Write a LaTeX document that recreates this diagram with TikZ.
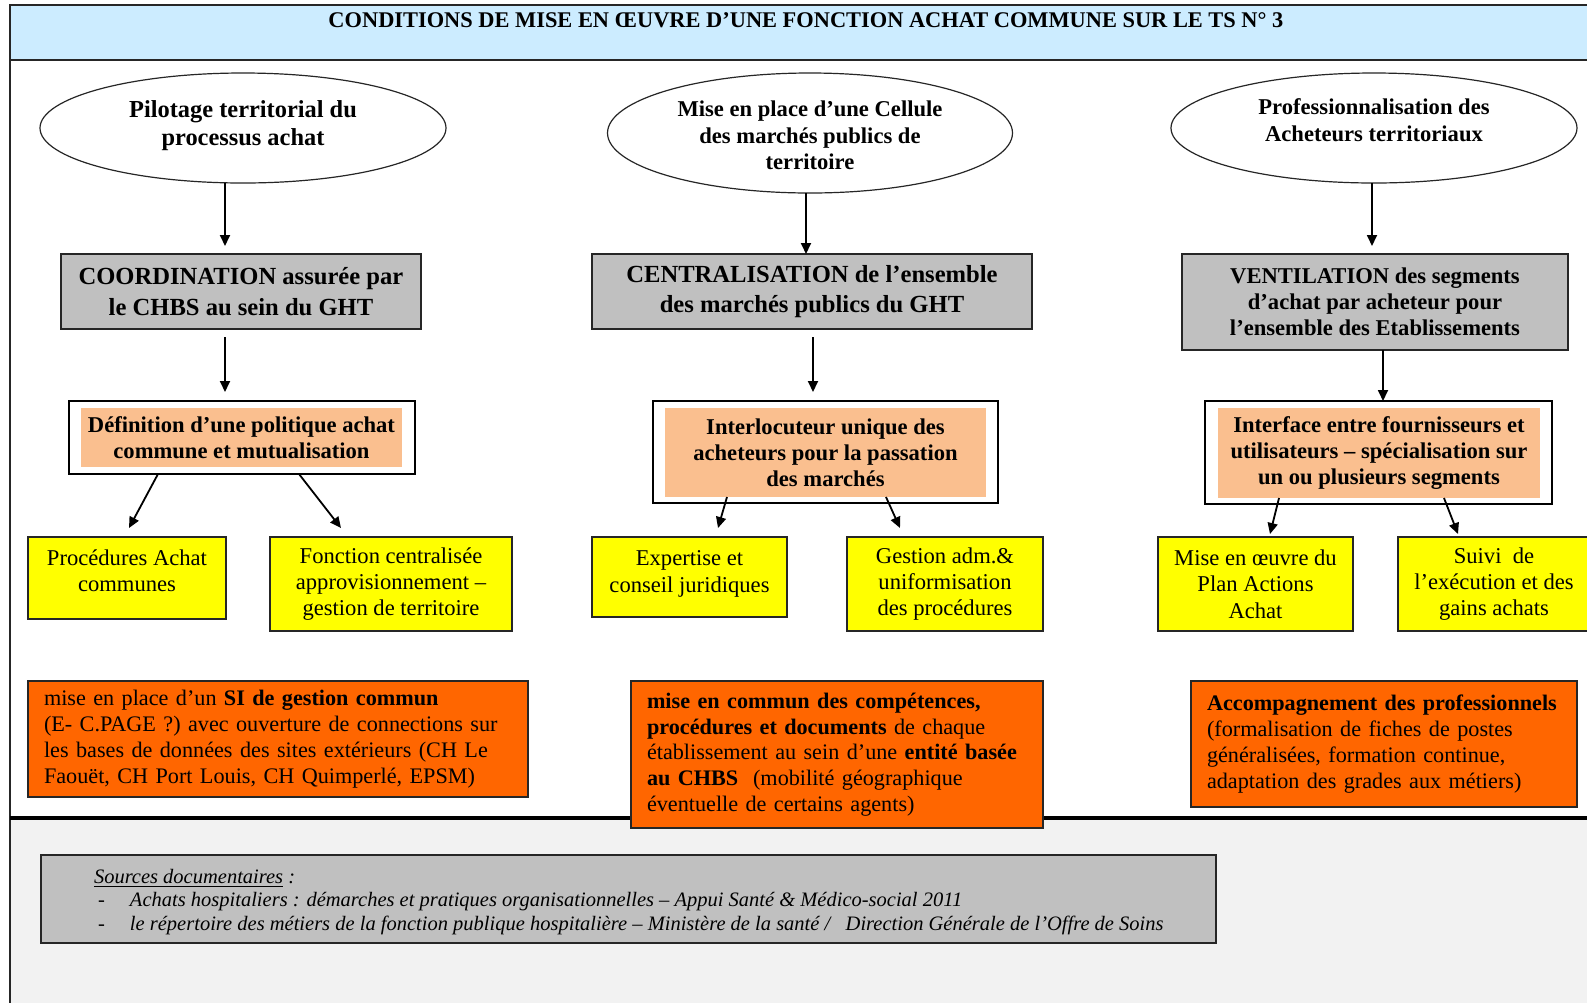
\documentclass[tikz,border=0pt]{standalone}
\usepackage{fontspec}
\setmainfont{Liberation Serif}
\usetikzlibrary{arrows.meta,shapes.geometric}

\definecolor{bandblue}{HTML}{CCECFF}
\definecolor{boxgray}{HTML}{C0C0C0}
\definecolor{salmon}{HTML}{FABF8F}
\definecolor{ylw}{HTML}{FFFF00}
\definecolor{orng}{HTML}{FF6600}
\definecolor{footgray}{HTML}{F2F2F2}
\definecolor{edge}{HTML}{262626}

\newcommand\fsz[2]{\fontsize{#1}{#2}\selectfont}

\begin{document}
\begin{tikzpicture}[x=0.5pt,y=-0.5pt,
  every node/.style={inner sep=0pt, outer sep=0pt},
  arr/.style={line width=0.9pt, -{Triangle[length=5.5pt,width=5pt]}},
  oval/.style={ellipse, draw=edge, line width=0.6pt, fill=white},
  ovaltext/.style={align=center},
  graybox/.style={draw=edge, line width=0.7pt, fill=boxgray, align=center},
  framebox/.style={draw=black, line width=0.7pt, fill=white},
  salmonbox/.style={fill=salmon, align=center, font=\fsz{11.3pt}{12.9pt}\bfseries},
  yellowbox/.style={draw=edge, line width=0.7pt, fill=ylw},
  yellowtext/.style={align=center, font=\fsz{11.3pt}{13.15pt}},
  orangebox/.style={draw=edge, line width=0.6pt, fill=orng, align=left, inner xsep=8pt, font=\fsz{11.1pt}{12.9pt}},
  srcbox/.style={draw=edge, line width=0.8pt, fill=boxgray},
]

% page, footer area, title band and frame
\useasboundingbox (0,0) rectangle (1587,1003);
\fill[white] (0,0) rectangle (1587,1003);
\fill[footgray] (10,818) rectangle (1600,1003);
\draw[edge, line width=0.6pt, fill=bandblue] (10,5) rectangle (1600,60);
\draw[edge, line width=0.8pt] (10,5) -- (10,1003);
\draw[black, line width=1.6pt] (10,818) -- (1600,818);

\node[font=\fsz{11.2pt}{13pt}\bfseries] (title) at (806,20)
  {CONDITIONS DE MISE EN ŒUVRE D’UNE FONCTION ACHAT COMMUNE SUR LE TS N° 3};

% top level: the three axes
\node[oval, minimum width=203pt, minimum height=55pt] (e1) at (243,128) {};
\node[oval, minimum width=202.5pt, minimum height=60pt] (e2) at (810,133) {};
\node[oval, minimum width=203pt, minimum height=55pt] (e3) at (1374,128) {};
\node[ovaltext, font=\fsz{12.2pt}{14.15pt}\bfseries] (e1t) at (243,125.5)
  {Pilotage territorial du\\processus achat};
\node[ovaltext, font=\fsz{11.3pt}{13.2pt}\bfseries] (e2t) at (810,135.5)
  {Mise en place d’une Cellule\\des marchés publics de\\territoire};
\node[ovaltext, font=\fsz{11.3pt}{13.2pt}\bfseries] (e3t) at (1374,120)
  {Professionnalisation des\\Acheteurs territoriaux};

% second level: gray boxes
\node[graybox, minimum width=180pt, minimum height=37.5pt, font=\fsz{12.3pt}{15.2pt}\bfseries] (g1) at (241,291.5)
  {COORDINATION assurée par\\le CHBS au sein du GHT};
\node[graybox, minimum width=220pt, minimum height=37.5pt, font=\fsz{12.3pt}{15.2pt}\bfseries] (g2) at (812,291.5)
  {CENTRALISATION de l’ensemble\\des marchés publics du GHT};
\node[graybox, minimum width=193pt, minimum height=48pt, font=\fsz{11.3pt}{12.9pt}\bfseries] (g3) at (1375,302)
  {VENTILATION des segments\\d’achat par acheteur pour\\l’ensemble des Etablissements};

% third level: framed salmon boxes
\node[framebox, minimum width=173pt, minimum height=36.5pt] (w1) at (242,437.5) {};
\node[salmonbox, minimum width=160.5pt, minimum height=29.5pt] (s1) at (241.5,437.5)
  {Définition d’une politique achat\\commune et mutualisation};
\node[framebox, minimum width=172.5pt, minimum height=51pt] (w2) at (825.5,452) {};
\node[salmonbox, minimum width=160.5pt, minimum height=44.5pt] (s2) at (825.5,452.5)
  {Interlocuteur unique des\\acheteurs pour la passation\\des marchés};
\node[framebox, minimum width=173.5pt, minimum height=51.5pt] (w3) at (1378.5,452.5) {};
\node[salmonbox, minimum width=161pt, minimum height=45pt] (s3) at (1379,453)
  {Interface entre fournisseurs et\\utilisateurs – spécialisation sur\\un ou plusieurs segments};

% fourth level: yellow boxes
\node[yellowbox, minimum width=99pt, minimum height=41pt] (y1) at (127,578) {};
\node[yellowtext] (y1t) at (127,571) {Procédures Achat\\communes};
\node[yellowbox, yellowtext, minimum width=121pt, minimum height=47pt] (y2) at (391,584)
  {Fonction centralisée\\approvisionnement –\\gestion de territoire};
\node[yellowbox, minimum width=97.5pt, minimum height=40pt] (y3) at (689.5,577) {};
\node[yellowtext] (y3t) at (689.5,574) {Expertise et\\conseil juridiques};
\node[yellowbox, yellowtext, minimum width=98pt, minimum height=47pt] (y4) at (945,584)
  {Gestion adm.\&\\uniformisation\\des procédures};
\node[yellowbox, yellowtext, minimum width=97.5pt, minimum height=47pt] (y5) at (1255.5,584)
  {Mise en œuvre du\\Plan Actions\\Achat};
\node[yellowbox, yellowtext, minimum width=96pt, minimum height=47pt] (y6) at (1494,584)
  {Suivi\ \ de\\l’exécution et des\\gains achats};

% orange boxes
\node[orangebox, text width=234pt, minimum height=58pt] (o1) at (278,739)
  {\mbox{mise en place d’un \textbf{SI de gestion commun}}\\
   \mbox{(E- C.PAGE ?) avec ouverture de connections sur}\\
   \mbox{les bases de données des sites extérieurs (CH Le}\\
   \mbox{Faouët, CH Port Louis, CH Quimperlé, EPSM)}};
\node[orangebox, text width=190pt, minimum height=73.5pt] (o2) at (837,754.5)
  {\mbox{\textbf{mise en commun des compétences,}}\\
   \mbox{\textbf{procédures et documents} de chaque}\\
   \mbox{établissement au sein d’une \textbf{entité basée}}\\
   \mbox{\textbf{au CHBS}\ \ (mobilité géographique}\\
   \mbox{éventuelle de certains agents)}};
\node[orangebox, text width=177pt, minimum height=63pt] (o3) at (1384,744)
  {\mbox{\textbf{Accompagnement des professionnels}}\\
   \mbox{(formalisation de fiches de postes}\\
   \mbox{généralisées, formation continue,}\\
   \mbox{adaptation des grades aux métiers)}};

% sources
\node[srcbox, minimum width=587.5pt, minimum height=44pt] (src) at (628.5,899) {};
\node[anchor=west, align=left, font=\fsz{10.25pt}{11.9pt}\itshape] (srct) at (94,902)
  {\underline{Sources documentaires} :\\
   \makebox[18pt][l]{\hspace{2pt}-}Achats hospitaliers : démarches et pratiques organisationnelles – Appui Santé \& Médico-social 2011\\
   \makebox[18pt][l]{\hspace{2pt}-}le répertoire des métiers de la fonction publique hospitalière – Ministère de la santé /\ \ \ Direction Générale de l’Offre de Soins};

% connectors
\coordinate (a1tip) at (225,246);
\coordinate (a2x) at (806,0);
\coordinate (a3tip) at (1372,246);
\draw[arr] (e1.south -| a1tip) -- (a1tip);
\draw[arr] (e2.south -| a2x) -- (g2.north -| a2x);
\draw[arr] (e3.south -| a3tip) -- (a3tip);

\coordinate (b1tip) at (225,392);
\coordinate (b2tip) at (813,392);
\coordinate (b3x) at (1383,0);
\draw[arr] ([yshift=-4pt]g1.south -| b1tip) -- (b1tip);
\draw[arr] ([yshift=-4pt]g2.south -| b2tip) -- (b2tip);
\draw[arr] (g3.south -| b3x) -- (w3.north -| b3x);

\coordinate (c1a) at (158,0);  \coordinate (t1a) at (129,528);
\coordinate (c1b) at (299,0);  \coordinate (t1b) at (341,528);
\coordinate (c2a) at (727,0);  \coordinate (t2a) at (718,528);
\coordinate (c2b) at (886,0);  \coordinate (t2b) at (900,528);
\coordinate (c3a) at (1279,0); \coordinate (t3a) at (1270,534);
\coordinate (c3b) at (1444,0); \coordinate (t3b) at (1458,534);
\draw[arr] (w1.south -| c1a) -- (t1a);
\draw[arr] (w1.south -| c1b) -- (t1b);
\draw[arr] (s2.south -| c2a) -- (t2a);
\draw[arr] (s2.south -| c2b) -- (t2b);
\draw[arr] (s3.south -| c3a) -- (t3a);
\draw[arr] (s3.south -| c3b) -- (t3b);

\end{tikzpicture}
\end{document}
